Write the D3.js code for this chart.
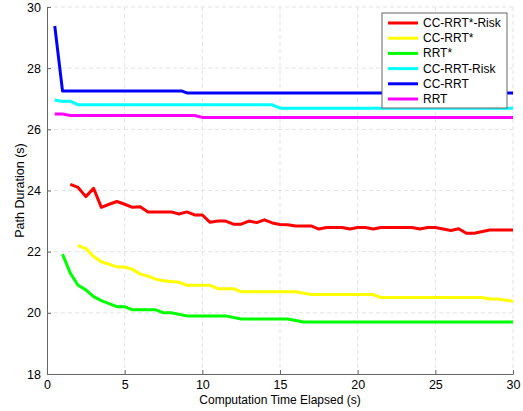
<!DOCTYPE html>
<html>
<head>
<meta charset="utf-8">
<script src="https://cdnjs.cloudflare.com/ajax/libs/d3/7.8.5/d3.min.js"></script>
<style>
  body { margin: 0; background: #fff; }
  text { font-family: "Liberation Sans", Arial, sans-serif; }
</style>
</head>
<body>
<div id="chart"></div>
<script>
var svgWidth = 523;
var svgHeight = 411;

var margin = { top: 7, right: 10, bottom: 37, left: 47 };
var width = svgWidth - margin.left - margin.right;
var height = svgHeight - margin.top - margin.bottom;

// series names and colours (legend order)
var seriesNames = ["CC-RRT*-Risk", "CC-RRT*", "RRT*", "CC-RRT-Risk", "CC-RRT", "RRT"];
var seriesColors = ["#ff0000", "#ffff00", "#00ff00", "#00ffff", "#0000ff", "#ff00ff"];

// values: time (s) and path duration (s)
var ccRrtStarRiskX = [1.5, 2, 2.5, 3, 3.5, 4, 4.5, 5, 5.5, 6, 6.5, 8, 8.5, 9, 9.5, 10, 10.5, 11, 11.5, 12, 12.5, 13, 13.5, 14, 14.5, 15, 15.5, 16, 17, 17.5, 18, 19, 19.5, 20, 20.5, 21, 21.5, 23.5, 24, 24.5, 25, 26, 26.5, 27, 27.5, 28.5, 30];
var ccRrtStarRiskY = [24.2, 24.1, 23.8, 24.07, 23.45, 23.55, 23.64, 23.55, 23.45, 23.47, 23.3, 23.3, 23.23, 23.3, 23.2, 23.2, 22.96, 23.0, 23.0, 22.9, 22.9, 23.0, 22.95, 23.04, 22.94, 22.89, 22.88, 22.84, 22.84, 22.74, 22.79, 22.79, 22.74, 22.79, 22.79, 22.74, 22.79, 22.79, 22.74, 22.79, 22.79, 22.69, 22.75, 22.6, 22.6, 22.71, 22.71];

var ccRrtStarX = [2, 2.5, 3, 3.5, 4, 4.5, 5, 5.5, 6, 6.5, 7, 7.5, 8.5, 9, 10.5, 11, 12, 12.5, 16, 17, 21, 21.5, 28, 28.5, 29, 30];
var ccRrtStarY = [22.2, 22.1, 21.84, 21.67, 21.59, 21.5, 21.5, 21.42, 21.27, 21.2, 21.1, 21.05, 21.0, 20.9, 20.9, 20.79, 20.79, 20.69, 20.69, 20.6, 20.6, 20.5, 20.5, 20.45, 20.45, 20.38];

var rrtStarX = [1, 1.5, 2, 2.5, 3, 3.5, 4, 4.5, 5, 5.5, 7, 7.5, 8, 9, 11.5, 12.5, 15.5, 16.5, 30];
var rrtStarY = [21.92, 21.3, 20.9, 20.75, 20.53, 20.4, 20.3, 20.2, 20.2, 20.1, 20.1, 20.0, 20.0, 19.9, 19.9, 19.8, 19.8, 19.7, 19.7];

var ccRrtRiskX = [0.5, 0.9, 1.5, 2, 14.5, 15, 30];
var ccRrtRiskY = [26.96, 26.92, 26.92, 26.8, 26.8, 26.69, 26.69];

var ccRrtX = [0.5, 1, 8.7, 9, 30];
var ccRrtY = [29.38, 27.25, 27.25, 27.19, 27.19];

var rrtX = [0.5, 1, 1.5, 9.5, 10, 30];
var rrtY = [26.5, 26.5, 26.45, 26.45, 26.39, 26.39];

var xTicks = [0, 5, 10, 15, 20, 25, 30];
var yTicks = [18, 20, 22, 24, 26, 28, 30];

var seriesData = [
  [ccRrtStarRiskX, ccRrtStarRiskY],
  [ccRrtStarX, ccRrtStarY],
  [rrtStarX, rrtStarY],
  [ccRrtRiskX, ccRrtRiskY],
  [ccRrtX, ccRrtY],
  [rrtX, rrtY]
];

var svg = d3.select("#chart")
  .append("svg")
  .attr("width", svgWidth)
  .attr("height", svgHeight);

var chartGroup = svg.append("g")
  .attr("transform", `translate(${margin.left}, ${margin.top})`);

var xScale = d3.scaleLinear().domain([0, 30]).range([0, width]);
var yScale = d3.scaleLinear().domain([18, 30]).range([height, 0]);

// dashed grid
chartGroup.append("g")
  .selectAll("line")
  .data(xTicks.slice(1))
  .enter()
  .append("line")
  .attr("x1", d => xScale(d)).attr("x2", d => xScale(d))
  .attr("y1", 0).attr("y2", height)
  .attr("stroke", "#e3e3e3")
  .attr("stroke-dasharray", "4,3");

chartGroup.append("g")
  .selectAll("line")
  .data(yTicks.slice(1))
  .enter()
  .append("line")
  .attr("x1", 0).attr("x2", width)
  .attr("y1", d => yScale(d)).attr("y2", d => yScale(d))
  .attr("stroke", "#e3e3e3")
  .attr("stroke-dasharray", "4,3");

// axes, ticks pointing inward
var bottomAxis = d3.axisBottom(xScale).tickValues(xTicks).tickSizeInner(-4).tickSizeOuter(0).tickPadding(6);
var leftAxis = d3.axisLeft(yScale).tickValues(yTicks).tickSizeInner(-4).tickSizeOuter(0).tickPadding(6);

var xAxis = chartGroup.append("g")
  .attr("transform", `translate(0, ${height})`)
  .call(bottomAxis);

var yAxis = chartGroup.append("g")
  .call(leftAxis);

[xAxis, yAxis].forEach(function(ax) {
  ax.select(".domain").attr("stroke", "#666");
  ax.selectAll(".tick line").attr("stroke", "#666");
  ax.selectAll(".tick text")
    .attr("fill", "#000")
    .attr("font-size", "12.5px")
    .attr("font-family", "Liberation Sans, Arial, sans-serif");
});

// series lines
var line = d3.line()
  .x(d => xScale(d[0]))
  .y(d => yScale(d[1]));

seriesData.forEach(function(s, i) {
  var pts = s[0].map((x, j) => [x, s[1][j]]);
  chartGroup.append("path")
    .datum(pts)
    .attr("fill", "none")
    .attr("stroke", seriesColors[i])
    .attr("stroke-width", 3)
    .attr("stroke-linejoin", "round")
    .attr("d", line);
});

// axis labels
chartGroup.append("text")
  .attr("x", width / 2)
  .attr("y", height + 30)
  .attr("text-anchor", "middle")
  .attr("font-size", "12px")
  .text("Computation Time Elapsed (s)");

chartGroup.append("text")
  .attr("transform", "rotate(-90)")
  .attr("x", -height / 2)
  .attr("y", -23)
  .attr("text-anchor", "middle")
  .attr("font-size", "12.5px")
  .text("Path Duration (s)");

// legend
var legend = svg.append("g")
  .attr("transform", "translate(382, 13)");

legend.append("rect")
  .attr("width", 125)
  .attr("height", 95)
  .attr("fill", "#fff")
  .attr("stroke", "#666");

seriesNames.forEach(function(name, i) {
  var yy = 10 + i * 15.2;
  legend.append("line")
    .attr("x1", 6).attr("x2", 36)
    .attr("y1", yy).attr("y2", yy)
    .attr("stroke", seriesColors[i])
    .attr("stroke-width", 3);
  legend.append("text")
    .attr("x", 41)
    .attr("y", yy + 4)
    .attr("font-size", "12px")
    .text(name);
});
</script>
</body>
</html>
